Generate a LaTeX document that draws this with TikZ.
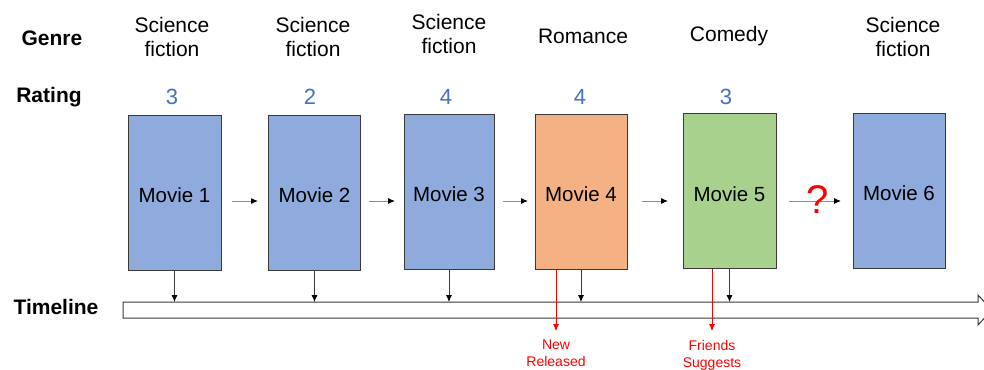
\documentclass[tikz,border=0pt]{standalone}
\usepackage{fontspec}
\setmainfont{Liberation Sans}
\usetikzlibrary{arrows.meta}
\definecolor{moviblue}{HTML}{8FAADC}
\definecolor{movorange}{HTML}{F4B183}
\definecolor{movgreen}{HTML}{A9D18E}
\definecolor{rateblue}{HTML}{4472C4}
\definecolor{edgegray}{HTML}{3A3A3A}
\definecolor{shaftgray}{HTML}{8C8C8C}
\tikzset{
  moviebox/.style={draw=edgegray, line width=1pt, inner sep=0pt,
    minimum width=92pt, minimum height=155pt,
    text height=20.5pt, text depth=0pt,
    font=\fontsize{20.5}{24}\selectfont},
  genrelabel/.style={align=center, inner sep=0pt,
    font=\fontsize{21}{24}\selectfont},
  rowlabel/.style={inner sep=0pt, font=\fontsize{21}{24}\selectfont\bfseries},
  ratelabel/.style={inner sep=0pt, text=rateblue,
    font=\fontsize{22}{24}\selectfont},
  nextarrow/.style={draw=shaftgray, line width=1pt,
    -{Latex[length=7pt,width=6pt,color=black]}},
  droparrow/.style={draw=edgegray, line width=0.8pt,
    -{Latex[length=7pt,width=6pt,color=black]}},
  triggerarrow/.style={draw=red, line width=0.8pt,
    -{Latex[length=7pt,width=6pt,color=red]}},
  triggerlabel/.style={align=center, inner sep=0pt, text=red,
    font=\fontsize{14}{17}\selectfont},
}
\begin{document}
\begin{tikzpicture}[x=1pt,y=-1pt]
\useasboundingbox[fill=white] (0,0) rectangle (984,369);

% row headings
\node[rowlabel] (hgenre) at (52,38) {Genre};
\node[rowlabel] (hrating) at (49,97) {Rating};
\node[rowlabel] (htime) at (56,307) {Timeline};

% movies
\node[moviebox, fill=moviblue, minimum width=93pt] (m1) at (174.5,192.5) {Movie 1};
\node[moviebox, fill=moviblue] (m2) at (314.5,192.5) {Movie 2};
\node[moviebox, fill=moviblue, minimum width=90pt] (m3) at (449,191.5) {Movie 3};
\node[moviebox, fill=movorange] (m4) at (581,191.5) {Movie 4};
\node[moviebox, fill=movgreen, minimum width=93pt] (m5) at (729.5,191) {Movie 5};
\node[moviebox, fill=moviblue] (m6) at (899,190.5) {Movie 6};

% genres
\node[genrelabel] (g1) at (172,37) {Science\\fiction};
\node[genrelabel] (g2) at (313,37) {Science\\fiction};
\node[genrelabel] (g3) at (449,34) {Science\\fiction};
\node[genrelabel] (g4) at (583,36) {Romance};
\node[genrelabel] (g5) at (729,36) {Comedy};
\node[genrelabel] (g6) at (903,37) {Science\\fiction};

% ratings
\node[ratelabel] (r1) at (172,97) {3};
\node[ratelabel] (r2) at (310,97) {2};
\node[ratelabel] (r3) at (446,97) {4};
\node[ratelabel] (r4) at (580,97) {4};
\node[ratelabel] (r5) at (726,97) {3};

% sequence arrows
\coordinate (a1s) at (232,201); \coordinate (a1e) at (258,201);
\coordinate (a2s) at (369,201); \coordinate (a2e) at (395,201);
\coordinate (a3s) at (503,201); \coordinate (a3e) at (528,201);
\coordinate (a4s) at (642,201); \coordinate (a4e) at (668,201);
\coordinate (a5s) at (789,201); \coordinate (a5e) at (841,201);
\draw[nextarrow] (a1s) -- (a1e);
\draw[nextarrow] (a2s) -- (a2e);
\draw[nextarrow] (a3s) -- (a3e);
\draw[nextarrow] (a4s) -- (a4e);
\draw[nextarrow] (a5s) -- (a5e);
\node[text=red, inner sep=0pt, font=\fontsize{40}{42}\selectfont] (qmark) at (818,200) {?};

% timeline arrow
\draw[edgegray, line width=1pt, fill=white]
  (123,302) -- (978,302) -- (978,295) -- (992,310) -- (978,325) -- (978,318)
  -- (123,318) -- cycle;
\coordinate (tl) at (0,302);

% drops onto the timeline
\draw[droparrow] (m1.south) -- (m1.south |- tl);
\draw[droparrow] (m2.south) -- (m2.south |- tl);
\draw[droparrow] (m3.south) -- (m3.south |- tl);
\draw[droparrow] (m4.south) -- (m4.south |- tl);
\draw[droparrow] (m5.south) -- (m5.south |- tl);

% triggers below the timeline
\coordinate (t4) at (556,331);
\coordinate (t5) at (712,331);
\draw[triggerarrow] (t4 |- m4.south) -- (t4);
\draw[triggerarrow] (t5 |- m5.south) -- (t5);
\node[triggerlabel, anchor=north] (n4) at (556,340) {New\\Released};
\node[triggerlabel, anchor=north] (n5) at (712,340) {Friends\\Suggests};
\end{tikzpicture}
\end{document}
